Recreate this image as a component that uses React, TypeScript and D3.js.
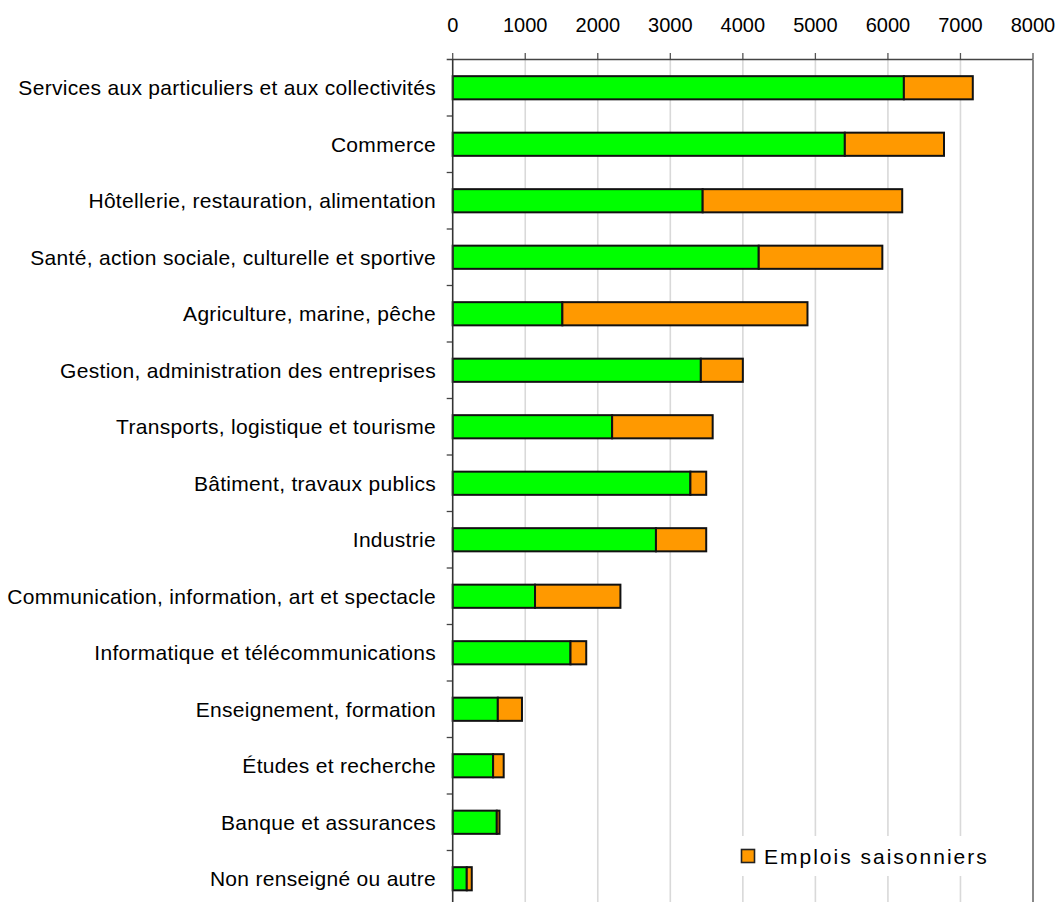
import React from "react";
import * as d3 from "d3";

const categories = [
  "Services aux particuliers et aux collectivités",
  "Commerce",
  "Hôtellerie, restauration, alimentation",
  "Santé, action sociale, culturelle et sportive",
  "Agriculture, marine, pêche",
  "Gestion, administration des entreprises",
  "Transports, logistique et tourisme",
  "Bâtiment, travaux publics",
  "Industrie",
  "Communication, information, art et spectacle",
  "Informatique et télécommunications",
  "Enseignement, formation",
  "Études et recherche",
  "Banque et assurances",
  "Non renseigné ou autre",
];

const nonSeasonal = [6220, 5406, 3446, 4219, 1512, 3421, 2198, 3277, 2802, 1135, 1624, 622, 557, 608, 194];
const seasonal = [950, 1367, 2751, 1704, 3379, 579, 1386, 218, 693, 1177, 217, 333, 146, 37, 69];

const xTicks = [0, 1000, 2000, 3000, 4000, 5000, 6000, 7000, 8000];
const legendLabel = "Emplois saisonniers";

const W = 1061;
const H = 902;
const FONT = "'Liberation Sans', Arial, Helvetica, sans-serif";

export default function App() {
  const left = 452.7;
  const right = 1033;
  const top = 59.5;
  const bottom = 907;

  const x = d3.scaleLinear().domain([0, 8000]).range([left, right]);
  const y = d3
    .scaleBand<string>()
    .domain(categories)
    .range([top, bottom])
    .paddingInner(0.59)
    .paddingOuter(0.295);
  const band = (bottom - top) / categories.length;

  const rows = categories.map((c, i) => ({
    c,
    a: nonSeasonal[i],
    b: seasonal[i],
  }));

  return (
    <svg
      width={W}
      height={H}
      style={{ position: "absolute", left: 0, top: 0, background: "#fff" }}
      fontFamily={FONT}
    >
      <rect x={0} y={0} width={W} height={H} fill="#fff" />
      {/* gridlines */}
      {xTicks
        .filter((t) => t > 0 && t < 8000)
        .map((t) => (
          <line
            key={"g" + t}
            x1={x(t)}
            x2={x(t)}
            y1={top}
            y2={bottom}
            stroke="#d9d9d9"
            strokeWidth={1.6}
          />
        ))}
      {/* top ticks */}
      {xTicks.map((t) => (
        <line
          key={"t" + t}
          x1={x(t)}
          x2={x(t)}
          y1={top - 6.5}
          y2={top}
          stroke="#555"
          strokeWidth={1.3}
        />
      ))}
      {/* top axis line */}
      <line x1={left - 6} x2={right} y1={top} y2={top} stroke="#444" strokeWidth={1.4} />
      {/* right border */}
      <line x1={right} x2={right} y1={top} y2={bottom} stroke="#888" strokeWidth={2} />
      {/* tick labels */}
      {xTicks.map((t) => (
        <text
          key={"l" + t}
          x={x(t)}
          y={32}
          textAnchor="middle"
          fontSize={20}
          fill="#000"
        >
          {t}
        </text>
      ))}
      {/* left category ticks */}
      {categories.map((c, i) => (
        <line
          key={"ct" + i}
          x1={left - 6}
          x2={left}
          y1={top + (i + 1) * band}
          y2={top + (i + 1) * band}
          stroke="#444"
          strokeWidth={1.3}
        />
      ))}
      {/* legend background */}
      <rect x={735} y={836} width={262} height={40} fill="#fff" />
      {/* bars */}
      {rows.map((r) => {
        const yy = y(r.c)!;
        const h = y.bandwidth();
        return (
          <g key={r.c}>
            <rect
              x={x(0)}
              y={yy}
              width={x(r.a) - x(0)}
              height={h}
              fill="#00ff00"
              stroke="#111"
              strokeWidth={2}
            />
            <rect
              x={x(r.a)}
              y={yy}
              width={x(r.a + r.b) - x(r.a)}
              height={h}
              fill="#ff9900"
              stroke="#111"
              strokeWidth={2}
            />
          </g>
        );
      })}
      {/* left axis */}
      <line x1={left} x2={left} y1={top} y2={bottom} stroke="#333" strokeWidth={1.6} />
      {/* category labels */}
      {categories.map((c) => (
        <text
          key={"cl" + c}
          x={436}
          y={y(c)! + y.bandwidth() / 2}
          dy="0.35em"
          textAnchor="end"
          fontSize={21}
          letterSpacing={0.3}
          fill="#000"
        >
          {c}
        </text>
      ))}
      {/* legend */}
      <rect x={741.5} y={849.5} width={13} height={13} fill="#ff9900" stroke="#222" strokeWidth={1.6} />
      <text x={764} y={864} fontSize={21} letterSpacing={2} fill="#000">
        {legendLabel}
      </text>
    </svg>
  );
}
